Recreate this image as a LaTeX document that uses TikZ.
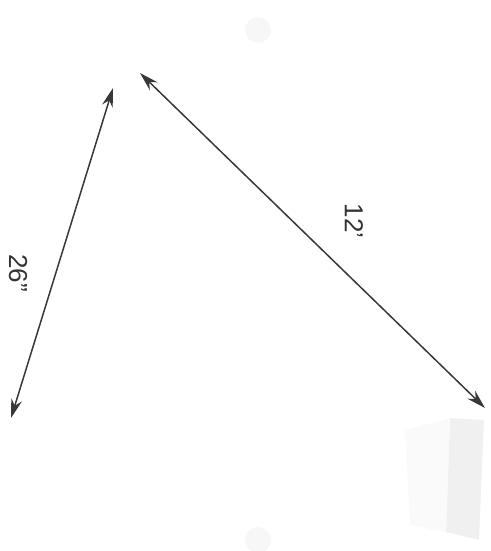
\documentclass[tikz,border=0pt]{standalone}
\usepackage{fontspec}
\setmainfont{Liberation Sans}
\usetikzlibrary{arrows.meta}
\begin{document}
\begin{tikzpicture}[x=1pt,y=-1pt,
  dim/.style={draw=black!78,line width=1.5pt,{Stealth[length=19pt,width=11pt]}-{Stealth[length=19pt,width=11pt]}},
  lbl/.style={font=\fontsize{26}{26}\selectfont,text=black!80,rotate=-90,inner sep=0pt},
  faint/.style={fill=black!3,draw=none}]
\useasboundingbox (0,0) rectangle (490,551);
% faint background shapes
\fill[black!6] (450,418) -- (484,420) -- (479,540) -- (446,532) -- cycle;
\fill[black!2] (405,430) -- (450,418) -- (446,532) -- (410,525) -- cycle;
\fill[faint] (258,30) circle (13);
\fill[faint] (258,540) circle (13);
% dimension arrows
\coordinate (a1) at (113,88);
\coordinate (a2) at (11,418);
\coordinate (b1) at (140,73);
\coordinate (b2) at (485,408);
\draw[dim] (a1) -- (a2);
\draw[dim] (b1) -- (b2);
\node[lbl] (l26) at (18,273) {26"};
\node[lbl] (l12) at (354,221) {12'};
\end{tikzpicture}
\end{document}
